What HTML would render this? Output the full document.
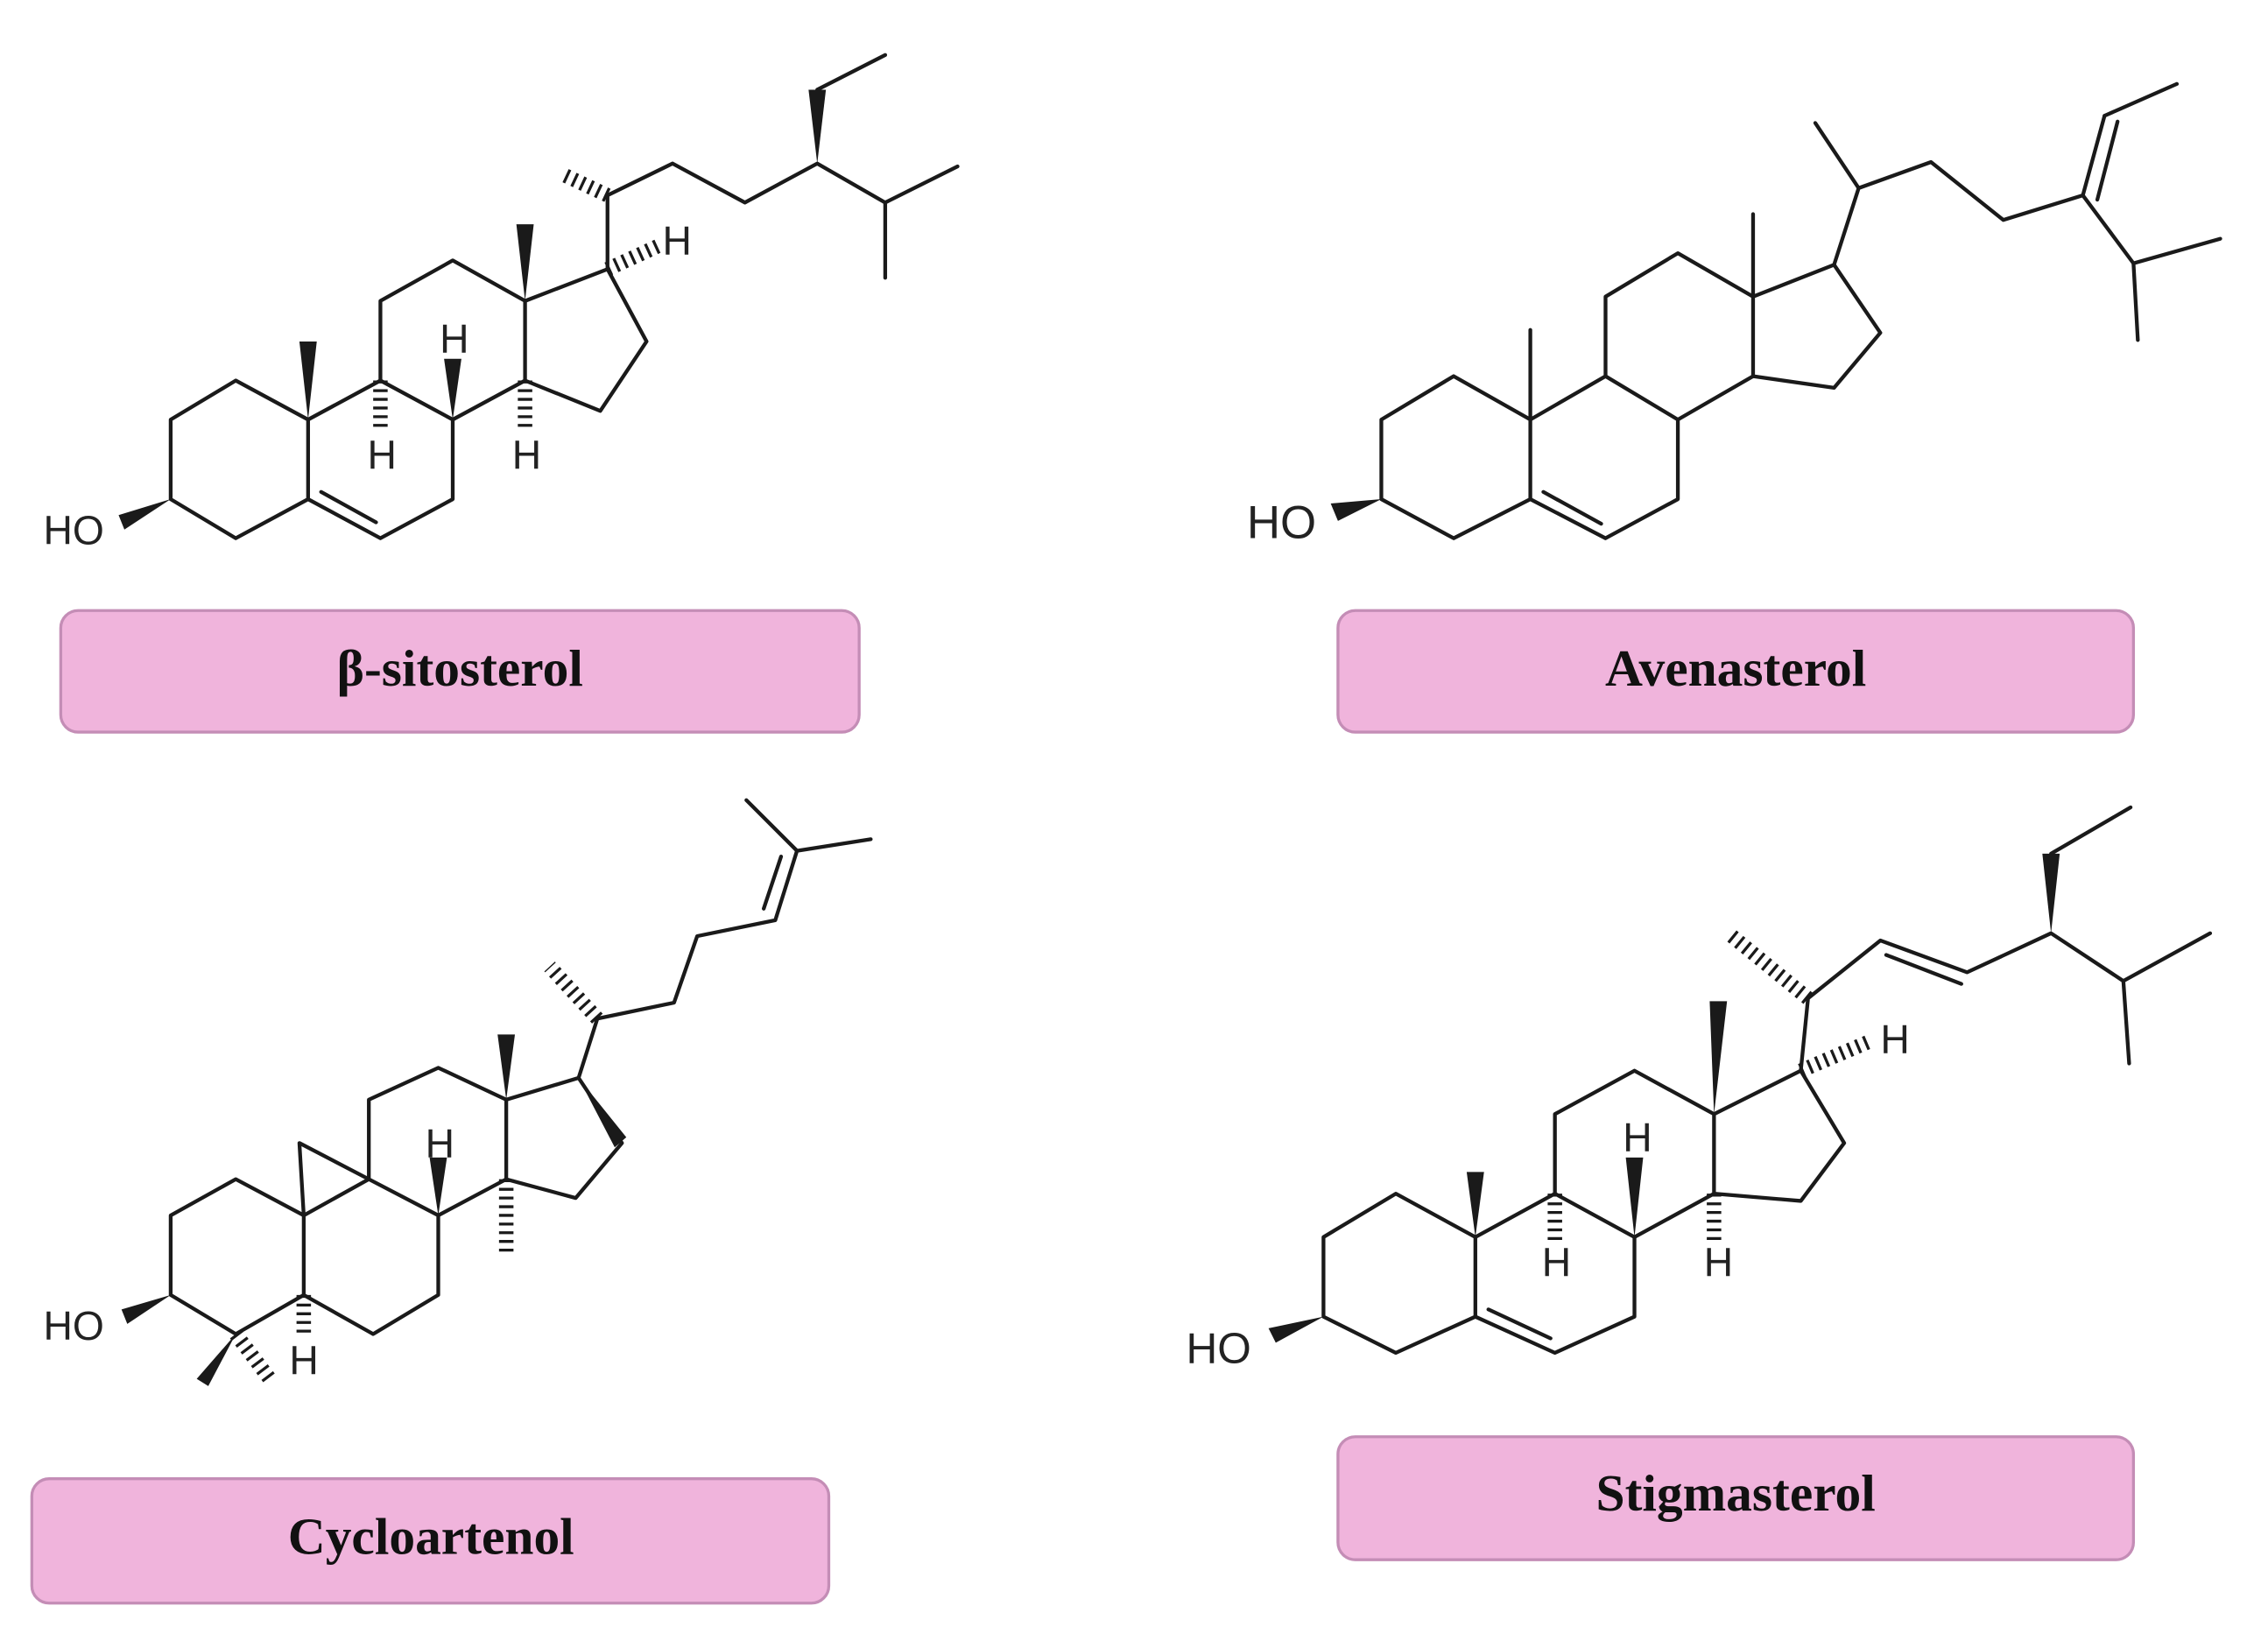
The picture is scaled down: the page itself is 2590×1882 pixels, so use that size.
<!DOCTYPE html>
<html><head><meta charset="utf-8"><style>
html,body{margin:0;padding:0;background:#fff;}
svg{display:block;}
.b{fill:none;stroke:#1a1a1a;stroke-width:2.6;stroke-linejoin:round;stroke-linecap:round;}
.h{fill:none;stroke:#1a1a1a;stroke-width:10;stroke-dasharray:2 4;}
.w{fill:#1a1a1a;}
.lab{font-family:"Liberation Sans",sans-serif;font-size:28px;fill:#222;}
.bx{fill:#f0b4dc;stroke:#c48db6;stroke-width:2;}
.t{font-family:"Liberation Serif",serif;font-weight:bold;font-size:36px;fill:#111;text-anchor:middle;}
</style></head><body>
<svg width="2590" height="1882" viewBox="0 0 1568 1139" preserveAspectRatio="none" xmlns="http://www.w3.org/2000/svg">
<rect width="1568" height="1139" fill="#fff"/>

<!-- beta-sitosterol -->
<g>
<polyline class="b" points="118,345 118,290 163,263 213,290 213,345 163,372 118,345"/>
<polyline class="b" points="213,290 263,263 313,290 313,345 263,372 213,345"/>
<line class="b" x1="222" y1="340" x2="260" y2="361"/>
<polyline class="b" points="263,263 263,208 313,180 363,208 363,263 313,290"/>
<polyline class="b" points="363,208 420,186 447,236 415,284 363,263"/>
<polyline class="b" points="420,186 420,135 465,113 515,140 565,113 612,140 662,115"/>
<line class="b" x1="612" y1="140" x2="612" y2="192"/>
<line class="b" x1="565" y1="62" x2="612" y2="38"/>
<polygon class="w" points="565,113 559,62 571,62"/>
<line class="h" x1="420" y1="135" x2="388" y2="120"/>
<line class="h" x1="420" y1="186" x2="455" y2="170"/>
<polygon class="w" points="213,290 207,236 219,236"/>
<polygon class="w" points="363,208 357,155 369,155"/>
<line class="h" x1="263" y1="263" x2="263" y2="298"/>
<polygon class="w" points="313,290 307,248 319,248"/>
<line class="h" x1="363" y1="263" x2="363" y2="298"/>
<polygon class="w" points="118,345 82,356 86,366"/>
<text class="lab" x="30" y="376">HO</text>
<text class="lab" x="254" y="324">H</text>
<text class="lab" x="304" y="244">H</text>
<text class="lab" x="354" y="324">H</text>
<text class="lab" x="458" y="176">H</text>
</g>
<rect class="bx" x="42" y="422" width="552" height="84" rx="12"/>
<text class="t" x="318" y="474">β-sitosterol</text>

<!-- Avenasterol -->
<g>
<polyline class="b" points="955,345 955,290 1005,260 1058,290 1058,345 1005,372 955,345"/>
<polyline class="b" points="1058,290 1110,260 1160,290 1160,345 1110,372 1058,345"/>
<line class="b" x1="1067" y1="340" x2="1107" y2="362"/>
<polyline class="b" points="1110,260 1110,205 1160,175 1212,205 1212,260 1160,290"/>
<polyline class="b" points="1212,205 1268,183 1300,230 1268,268 1212,260"/>
<line class="b" x1="1058" y1="290" x2="1058" y2="228"/>
<line class="b" x1="1212" y1="205" x2="1212" y2="148"/>
<polyline class="b" points="1268,183 1285,130 1335,112 1385,152 1440,135 1475,182 1535,165"/>
<line class="b" x1="1285" y1="130" x2="1255" y2="85"/>
<line class="b" x1="1475" y1="182" x2="1478" y2="235"/>
<line class="b" x1="1440" y1="135" x2="1455" y2="80"/>
<line class="b" x1="1450" y1="138" x2="1464" y2="84"/>
<line class="b" x1="1455" y1="80" x2="1505" y2="58"/>
<polygon class="w" points="955,345 920,348 925,360"/>
<text class="lab" x="862" y="372" style="font-size:32px">HO</text>
</g>
<rect class="bx" x="925" y="422" width="550" height="84" rx="12"/>
<text class="t" x="1200" y="474">Avenasterol</text>

<!-- Cycloartenol -->
<g>
<polyline class="b" points="118,895 118,840 163,815 210,840 210,895 163,922 118,895"/>
<polyline class="b" points="210,840 255,815 303,840 303,895 258,922 210,895"/>
<polyline class="b" points="210,840 207,790 255,815"/>
<polyline class="b" points="255,815 255,760 303,738 350,760 350,815 303,840"/>
<polyline class="b" points="350,760 400,745 430,790 398,828 350,815"/>
<polygon class="w" points="400,745 433,786 425,793"/>
<polygon class="w" points="350,760 344,715 356,715"/>
<polygon class="w" points="303,840 297,800 309,800"/>
<line class="h" x1="350" y1="815" x2="350" y2="865"/>
<polyline class="b" points="400,745 413,704 466,693 482,647 536,636 551,588 602,580"/>
<line class="b" x1="551" y1="588" x2="516" y2="553"/>
<line class="b" x1="540" y1="592" x2="528" y2="628"/>
<line class="h" x1="413" y1="704" x2="380" y2="668"/>
<polygon class="w" points="163,922 136,953 144,958"/>
<line class="h" x1="163" y1="922" x2="188" y2="955"/>
<line class="h" x1="210" y1="895" x2="210" y2="925"/>
<polygon class="w" points="118,895 84,905 88,915"/>
<text class="lab" x="30" y="926">HO</text>
<text class="lab" x="294" y="800">H</text>
<text class="lab" x="200" y="950">H</text>
</g>
<rect class="bx" x="22" y="1022" width="551" height="86" rx="12"/>
<text class="t" x="298" y="1074">Cycloartenol</text>

<!-- Stigmasterol -->
<g>
<polyline class="b" points="915,910 915,855 965,825 1020,855 1020,910 965,935 915,910"/>
<polyline class="b" points="1020,855 1075,825 1130,855 1130,910 1075,935 1020,910"/>
<line class="b" x1="1029" y1="905" x2="1072" y2="925"/>
<polyline class="b" points="1075,825 1075,770 1130,740 1185,770 1185,825 1130,855"/>
<polyline class="b" points="1185,770 1245,740 1275,790 1245,830 1185,825"/>
<polygon class="w" points="1020,855 1014,810 1026,810"/>
<polygon class="w" points="1185,770 1182,692 1194,692"/>
<line class="h" x1="1075" y1="825" x2="1075" y2="858"/>
<polygon class="w" points="1130,855 1124,800 1136,800"/>
<line class="h" x1="1185" y1="825" x2="1185" y2="858"/>
<line class="h" x1="1245" y1="740" x2="1292" y2="720"/>
<polyline class="b" points="1245,740 1250,690 1300,650 1360,672 1418,645 1468,678 1528,645"/>
<line class="b" x1="1304" y1="660" x2="1356" y2="680"/>
<line class="b" x1="1468" y1="678" x2="1472" y2="735"/>
<polygon class="w" points="1418,645 1412,590 1424,590"/>
<line class="b" x1="1418" y1="590" x2="1473" y2="558"/>
<line class="h" x1="1250" y1="690" x2="1195" y2="645"/>
<polygon class="w" points="915,910 877,918 882,928"/>
<text class="lab" x="820" y="942" style="font-size:30px">HO</text>
<text class="lab" x="1066" y="882">H</text>
<text class="lab" x="1122" y="796">H</text>
<text class="lab" x="1178" y="882">H</text>
<text class="lab" x="1300" y="728">H</text>
</g>
<rect class="bx" x="925" y="993" width="550" height="85" rx="12"/>
<text class="t" x="1200" y="1044">Stigmasterol</text>
</svg>
</body></html>
